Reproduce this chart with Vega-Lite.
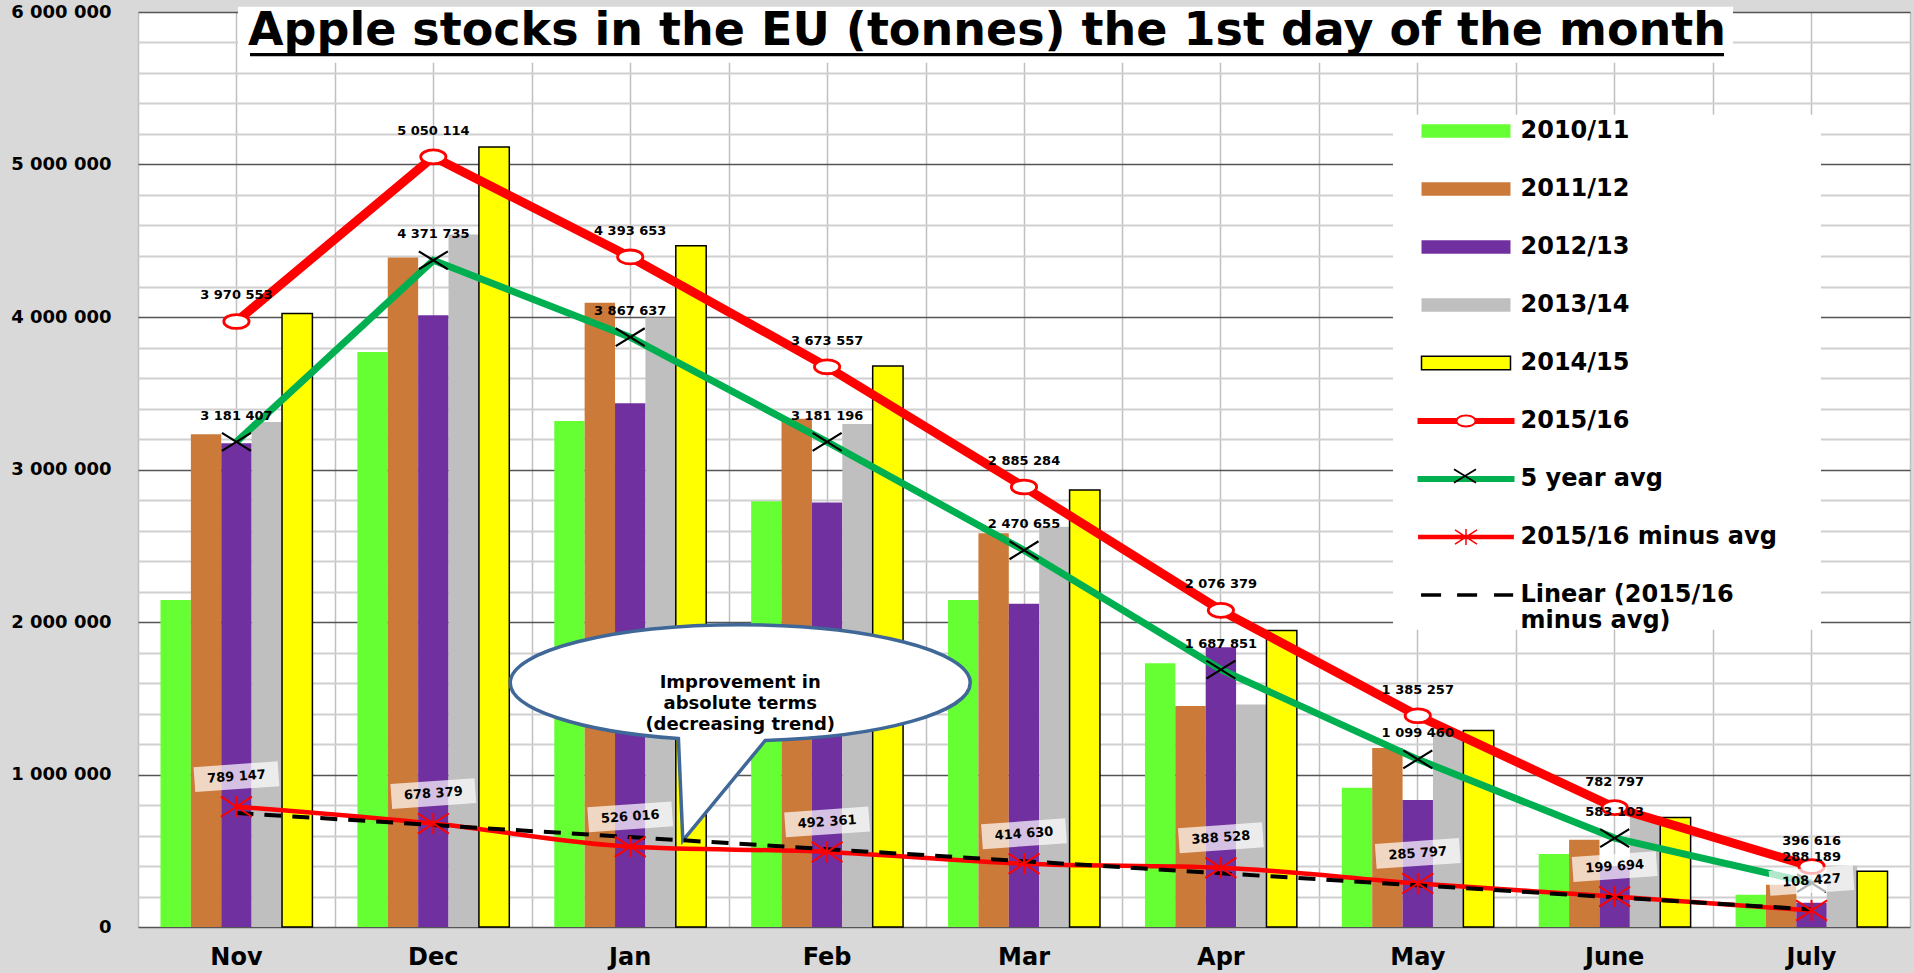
{
  "$schema": "https://vega.github.io/schema/vega-lite/v6.json",
  "width": 1772,
  "height": 915,
  "autosize": {"type": "none"},
  "padding": {"left": 138, "top": 12, "right": 4, "bottom": 46},
  "background": "#d9d9d9",
  "config": {
    "view": {"fill": "white", "stroke": null},
    "font": "DejaVu Sans",
    "locale": {"number": {"decimal": ".", "thousands": " ", "grouping": [3], "currency": ["", ""]}}
  },
  "title": {
    "text": "Apple stocks in the EU (tonnes) the 1st day of the month",
    "orient": "top", "anchor": "middle", "frame": "group",
    "offset": -48, "dx": -37, "dy": 40,
    "font": "DejaVu Sans", "fontSize": 46, "fontWeight": "bold", "color": "black", "baseline": "alphabetic"
  },
  "datasets": {
    "stocks": [
      {"month": "Nov", "series": "2010/11", "value": 2145000},
      {"month": "Nov", "series": "2011/12", "value": 3231000},
      {"month": "Nov", "series": "2012/13", "value": 3172000},
      {"month": "Nov", "series": "2013/14", "value": 3311000},
      {"month": "Nov", "series": "2014/15", "value": 4023000},
      {"month": "Nov", "series": "2015/16", "value": 3970553},
      {"month": "Nov", "series": "5 year avg", "value": 3181407},
      {"month": "Nov", "series": "2015/16 minus avg", "value": 789147},
      {"month": "Nov", "series": "Linear (2015/16 minus avg)", "value": 747656},
      {"month": "Dec", "series": "2010/11", "value": 3770000},
      {"month": "Dec", "series": "2011/12", "value": 4390000},
      {"month": "Dec", "series": "2012/13", "value": 4012000},
      {"month": "Dec", "series": "2013/14", "value": 4541000},
      {"month": "Dec", "series": "2014/15", "value": 5115000},
      {"month": "Dec", "series": "2015/16", "value": 5050114},
      {"month": "Dec", "series": "5 year avg", "value": 4371735},
      {"month": "Dec", "series": "2015/16 minus avg", "value": 678379},
      {"month": "Dec", "series": "Linear (2015/16 minus avg)", "value": 668603},
      {"month": "Jan", "series": "2010/11", "value": 3318000},
      {"month": "Jan", "series": "2011/12", "value": 4093000},
      {"month": "Jan", "series": "2012/13", "value": 3434000},
      {"month": "Jan", "series": "2013/14", "value": 3997000},
      {"month": "Jan", "series": "2014/15", "value": 4467000},
      {"month": "Jan", "series": "2015/16", "value": 4393653},
      {"month": "Jan", "series": "5 year avg", "value": 3867637},
      {"month": "Jan", "series": "2015/16 minus avg", "value": 526016},
      {"month": "Jan", "series": "Linear (2015/16 minus avg)", "value": 589549},
      {"month": "Feb", "series": "2010/11", "value": 2792000},
      {"month": "Feb", "series": "2011/12", "value": 3333000},
      {"month": "Feb", "series": "2012/13", "value": 2783000},
      {"month": "Feb", "series": "2013/14", "value": 3298000},
      {"month": "Feb", "series": "2014/15", "value": 3678000},
      {"month": "Feb", "series": "2015/16", "value": 3673557},
      {"month": "Feb", "series": "5 year avg", "value": 3181196},
      {"month": "Feb", "series": "2015/16 minus avg", "value": 492361},
      {"month": "Feb", "series": "Linear (2015/16 minus avg)", "value": 510496},
      {"month": "Mar", "series": "2010/11", "value": 2145000},
      {"month": "Mar", "series": "2011/12", "value": 2582000},
      {"month": "Mar", "series": "2012/13", "value": 2119000},
      {"month": "Mar", "series": "2013/14", "value": 2625000},
      {"month": "Mar", "series": "2014/15", "value": 2866000},
      {"month": "Mar", "series": "2015/16", "value": 2885284},
      {"month": "Mar", "series": "5 year avg", "value": 2470655},
      {"month": "Mar", "series": "2015/16 minus avg", "value": 414630},
      {"month": "Mar", "series": "Linear (2015/16 minus avg)", "value": 431442},
      {"month": "Apr", "series": "2010/11", "value": 1730000},
      {"month": "Apr", "series": "2011/12", "value": 1450000},
      {"month": "Apr", "series": "2012/13", "value": 1835000},
      {"month": "Apr", "series": "2013/14", "value": 1459000},
      {"month": "Apr", "series": "2014/15", "value": 1944000},
      {"month": "Apr", "series": "2015/16", "value": 2076379},
      {"month": "Apr", "series": "5 year avg", "value": 1687851},
      {"month": "Apr", "series": "2015/16 minus avg", "value": 388528},
      {"month": "Apr", "series": "Linear (2015/16 minus avg)", "value": 352389},
      {"month": "May", "series": "2010/11", "value": 913000},
      {"month": "May", "series": "2011/12", "value": 1173000},
      {"month": "May", "series": "2012/13", "value": 832000},
      {"month": "May", "series": "2013/14", "value": 1275000},
      {"month": "May", "series": "2014/15", "value": 1288000},
      {"month": "May", "series": "2015/16", "value": 1385257},
      {"month": "May", "series": "5 year avg", "value": 1099460},
      {"month": "May", "series": "2015/16 minus avg", "value": 285797},
      {"month": "May", "series": "Linear (2015/16 minus avg)", "value": 273336},
      {"month": "June", "series": "2010/11", "value": 478000},
      {"month": "June", "series": "2011/12", "value": 572000},
      {"month": "June", "series": "2012/13", "value": 400000},
      {"month": "June", "series": "2013/14", "value": 728000},
      {"month": "June", "series": "2014/15", "value": 718000},
      {"month": "June", "series": "2015/16", "value": 782797},
      {"month": "June", "series": "5 year avg", "value": 583103},
      {"month": "June", "series": "2015/16 minus avg", "value": 199694},
      {"month": "June", "series": "Linear (2015/16 minus avg)", "value": 194282},
      {"month": "July", "series": "2010/11", "value": 212000},
      {"month": "July", "series": "2011/12", "value": 277000},
      {"month": "July", "series": "2012/13", "value": 159000},
      {"month": "July", "series": "2013/14", "value": 402000},
      {"month": "July", "series": "2014/15", "value": 365000},
      {"month": "July", "series": "2015/16", "value": 396616},
      {"month": "July", "series": "5 year avg", "value": 288189},
      {"month": "July", "series": "2015/16 minus avg", "value": 108427},
      {"month": "July", "series": "Linear (2015/16 minus avg)", "value": 115229}
    ],
    "notes": [
      {"kind": "title box", "month": "Mar", "value": 5851000},
      {"kind": "legend box", "month": "June", "value": 3638000},
      {"kind": "callout", "month": "Jan", "value": 1602000, "note": "Improvement in\nabsolute terms\n(decreasing trend)"}
    ]
  },
  "resolve": {"axis": {"x": "independent", "y": "independent"}},
  "layer": [
    {
      "data": {"name": "stocks"},
      "transform": [{"filter": {"field": "series", "oneOf": ["2010/11", "2011/12", "2012/13", "2013/14", "2014/15"]}}],
      "mark": {"type": "bar", "stroke": "black"},
      "encoding": {
        "x": {
          "field": "month", "type": "nominal", "sort": null,
          "scale": {"domain": ["Nov", "Dec", "Jan", "Feb", "Mar", "Apr", "May", "June", "July"], "paddingInner": 0, "paddingOuter": 0},
          "axis": {"orient": "bottom", "title": null, "labelAngle": 0, "labelFont": "DejaVu Sans", "labelFontSize": 24, "labelFontWeight": "bold", "labelColor": "black", "labelPadding": 18, "ticks": false, "tickSize": 0, "domain": false, "grid": true, "gridColor": "#c0c0c0", "gridWidth": 1.5, "tickBand": "center"}
        },
        "xOffset": {"field": "series", "type": "nominal", "sort": null, "scale": {"domain": ["2010/11", "2011/12", "2012/13", "2013/14", "2014/15"], "paddingInner": 0, "paddingOuter": 0.74}},
        "y": {
          "field": "value", "type": "quantitative",
          "scale": {"domain": [0, 6000000], "nice": false},
          "axis": {
            "orient": "left", "title": null,
            "values": [0, 1000000, 2000000, 3000000, 4000000, 5000000, 6000000],
            "format": ",d",
            "labelFont": "DejaVu Sans", "labelFontSize": 18, "labelFontWeight": "bold", "labelColor": "black", "labelPadding": 27,
            "ticks": false, "tickSize": 0, "domain": false, "grid": true, "gridColor": "#555555", "gridWidth": 1.5
          }
        },
        "color": {
          "field": "series", "type": "nominal",
          "scale": {
            "domain": ["2010/11", "2011/12", "2012/13", "2013/14", "2014/15", "2015/16", "5 year avg", "2015/16 minus avg", "Linear (2015/16 minus avg)"],
            "range": ["#66ff33", "#cc7a3a", "#7030a0", "#bfbfbf", "#ffff00", "#ff0000", "#00b050", "#ff0000", "#000000"]
          },
          "legend": {
            "orient": "none", "legendX": 1282.5, "legendY": 73.5, "title": null,
            "padding": 0, "symbolSize": 7921, "symbolOffset": 0, "symbolStrokeWidth": 1.5,
            "symbolType": {"expr": "datum.value === '2015/16' ? 'M -1.09 -0.07 L -0.21 -0.07 L -0.21 0.07 L -1.09 0.07 Z M 0.21 -0.07 L 1.09 -0.07 L 1.09 0.07 L 0.21 0.07 Z M -0.236 0 C -0.236 -0.08 -0.13 -0.145 0 -0.145 C 0.13 -0.145 0.236 -0.08 0.236 0 C 0.236 0.08 0.13 0.145 0 0.145 C -0.13 0.145 -0.236 0.08 -0.236 0 Z M -0.19 0 C -0.19 0.055 -0.105 0.1 0 0.1 C 0.105 0.1 0.19 0.055 0.19 0 C 0.19 -0.055 0.105 -0.1 0 -0.1 C -0.105 -0.1 -0.19 -0.055 -0.19 0 Z' : datum.value === '5 year avg' ? 'M -1.09 -0.07 L 1.09 -0.07 L 1.09 0.07 L -1.09 0.07 Z' : datum.value === '2015/16 minus avg' ? 'M -1.06 -0.035 L 1.06 -0.035 L 1.06 0.035 L -1.06 0.035 Z M -0.247 -0.16 L 0.247 0.16 M -0.247 0.16 L 0.247 -0.16 M 0 -0.18 L 0 0.18' : datum.value === 'Linear (2015/16 minus avg)' ? 'M -1.01 -0.038 L -0.56 -0.038 L -0.56 0.038 L -1.01 0.038 Z M -0.2 -0.038 L 0.25 -0.038 L 0.25 0.038 L -0.2 0.038 Z M 0.63 -0.038 L 1.06 -0.038 L 1.06 0.038 L 0.63 0.038 Z' : 'M -1 -0.15 L 1 -0.15 L 1 0.15 L -1 0.15 Z'"},
            "symbolStrokeColor": {"expr": "datum.value === '2014/15' ? 'black' : datum.value === '2015/16 minus avg' ? '#ff0000' : 'transparent'"},
            "symbolOpacity": 1,
            "labelOffset": 9, "labelFont": "DejaVu Sans", "labelFontSize": 24, "labelFontWeight": "bold", "labelColor": "black", "labelLimit": 500,
            "rowPadding": -1.6,
            "labelExpr": "datum.label === 'Linear (2015/16 minus avg)' ? ['Linear (2015/16', 'minus avg)'] : datum.label === '5 year avg' ? '\u00a05 year avg' : datum.label"
          }
        },
        "strokeWidth": {"condition": {"test": "datum.series === '2014/15'", "value": 1.5}, "value": 0}
      }
    },
    {
      "data": {"name": "notes"},
      "transform": [{"filter": "datum.kind === 'legend box'"}],
      "mark": {"type": "point", "shape": "M -1 -1.203 L 1 -1.203 L 1 1.203 L -1 1.203 Z", "size": 183184, "filled": true, "fill": "white", "strokeWidth": 0, "opacity": 1, "xOffset": -7.7},
      "encoding": {
        "x": {"field": "month", "type": "nominal", "sort": null, "axis": null},
        "y": {"field": "value", "type": "quantitative", "axis": null}
      }
    },
    {
      "data": {"name": "notes"},
      "transform": [{"filter": "datum.kind === 'title box'"}],
      "mark": {"type": "point", "shape": "M -1 -0.0375 L 1 -0.0375 L 1 0.0375 L -1 0.0375 Z", "size": 2235025, "filled": true, "fill": "white", "strokeWidth": 0, "opacity": 1, "xOffset": -38.5},
      "encoding": {
        "x": {"field": "month", "type": "nominal", "sort": null, "axis": null},
        "y": {"field": "value", "type": "quantitative", "axis": null}
      }
    },
    {
      "data": {"name": "notes"},
      "transform": [{"filter": "datum.kind === 'title box'"}],
      "mark": {"type": "point", "shape": "M -1 -0.00224 L 1 -0.00224 L 1 0.00224 L -1 0.00224 Z", "size": 2172676, "filled": true, "fill": "black", "strokeWidth": 0, "opacity": 1, "xOffset": -37, "yOffset": 20},
      "encoding": {
        "x": {"field": "month", "type": "nominal", "sort": null, "axis": null},
        "y": {"field": "value", "type": "quantitative", "axis": null}
      }
    },
    {
      "data": {"name": "notes"},
      "transform": [{"filter": "datum.kind === 'callout'"}],
      "mark": {"type": "point", "shape": "M 0.25 0.577 C 1.417 0.544 2.3 0.296 2.3 0 C 2.3 -0.32 1.27 -0.58 0 -0.58 C -1.27 -0.58 -2.3 -0.32 -2.3 0 C -2.3 0.26 -1.613 0.489 -0.618 0.559 L -0.574 1.58 Z", "size": 40000, "filled": true, "fill": "white", "stroke": "#3f6797", "strokeWidth": 3.5, "opacity": 1, "xOffset": 110},
      "encoding": {
        "x": {"field": "month", "type": "nominal", "sort": null, "axis": null},
        "y": {"field": "value", "type": "quantitative", "axis": null}
      }
    },
    {
      "data": {"name": "notes"},
      "transform": [{"filter": "datum.kind === 'callout'"}],
      "mark": {"type": "text", "lineBreak": "\n", "font": "DejaVu Sans", "fontSize": 18, "fontWeight": "bold", "color": "black", "align": "center", "baseline": "middle", "lineHeight": 21, "xOffset": 110},
      "encoding": {
        "x": {"field": "month", "type": "nominal", "sort": null, "axis": null},
        "y": {"field": "value", "type": "quantitative", "axis": null},
        "text": {"field": "note"}
      }
    },
    {
      "data": {"name": "stocks"},
      "transform": [{"filter": "datum.series === '2015/16 minus avg'"}],
      "mark": {"type": "line", "color": "#ff0000", "strokeWidth": 4.5, "interpolate": "monotone"},
      "encoding": {
        "x": {"field": "month", "type": "nominal", "sort": null, "axis": null},
        "y": {"field": "value", "type": "quantitative", "axis": null},
        "order": {"value": null}
      }
    },
    {
      "data": {"name": "stocks"},
      "transform": [{"filter": "datum.series === 'Linear (2015/16 minus avg)'"}],
      "mark": {"type": "line", "color": "black", "strokeWidth": 4, "strokeDash": [17, 11]},
      "encoding": {
        "x": {"field": "month", "type": "nominal", "sort": null, "axis": null},
        "y": {"field": "value", "type": "quantitative", "axis": null},
        "order": {"value": null}
      }
    },
    {
      "data": {"name": "stocks"},
      "transform": [{"filter": "datum.series === '5 year avg'"}],
      "mark": {"type": "line", "color": "#00b050", "strokeWidth": 7},
      "encoding": {
        "x": {"field": "month", "type": "nominal", "sort": null, "axis": null},
        "y": {"field": "value", "type": "quantitative", "axis": null},
        "order": {"value": null}
      }
    },
    {
      "data": {"name": "stocks"},
      "transform": [{"filter": "datum.series === '2015/16'"}],
      "mark": {"type": "line", "color": "#ff0000", "strokeWidth": 9},
      "encoding": {
        "x": {
          "field": "month", "type": "nominal", "sort": null,
          "axis": {"orient": "top", "title": null, "labels": false, "ticks": false, "domain": false, "grid": true, "tickBand": "extent", "gridColor": "#c0c0c0", "gridWidth": 1.5}
        },
        "y": {
          "field": "value", "type": "quantitative",
          "axis": {
            "orient": "right", "title": null, "labels": false, "ticks": false, "domain": false, "grid": true, "gridColor": "#d0d0d0", "gridWidth": 2,
            "values": [200000, 400000, 600000, 800000, 1200000, 1400000, 1600000, 1800000, 2200000, 2400000, 2600000, 2800000, 3200000, 3400000, 3600000, 3800000, 4200000, 4400000, 4600000, 4800000, 5200000, 5400000, 5600000, 5800000]
          }
        },
        "order": {"value": null}
      }
    },
    {
      "data": {"name": "stocks"},
      "transform": [{"filter": "datum.series === '5 year avg'"}],
      "mark": {"type": "point", "filled": false, "stroke": "black", "strokeWidth": 2.2, "size": 841, "opacity": 1},
      "encoding": {
        "x": {"field": "month", "type": "nominal", "sort": null, "axis": null},
        "y": {"field": "value", "type": "quantitative", "axis": null},
        "shape": {
          "field": "series", "type": "nominal",
          "scale": {"domain": ["5 year avg"], "range": ["M -1 -0.62 L 1 0.62 M -1 0.62 L 1 -0.62"]},
          "legend": {"orient": "none", "legendX": 1315, "legendY": 452, "title": null, "padding": 0, "symbolSize": 484, "symbolStrokeWidth": 1.8, "symbolStrokeColor": "black", "symbolFillColor": "transparent", "symbolOffset": 0, "labelOpacity": 0, "labelFontSize": 1}
        }
      }
    },
    {
      "data": {"name": "stocks"},
      "transform": [{"filter": "datum.series === '2015/16'"}],
      "mark": {"type": "point", "shape": "M -1 0 C -1 -0.304 -0.552 -0.55 0 -0.55 C 0.552 -0.55 1 -0.304 1 0 C 1 0.304 0.552 0.55 0 0.55 C -0.552 0.55 -1 0.304 -1 0 Z", "filled": true, "fill": "white", "stroke": "#ff0000", "strokeWidth": 2.8, "size": 640, "opacity": 1},
      "encoding": {
        "x": {"field": "month", "type": "nominal", "sort": null, "axis": null},
        "y": {"field": "value", "type": "quantitative", "axis": null}
      }
    },
    {
      "data": {"name": "stocks"},
      "transform": [{"filter": "datum.series === '2015/16 minus avg'"}],
      "mark": {"type": "point", "shape": "M -1 -0.65 L 1 0.65 M -1 0.65 L 1 -0.65 M 0 -0.68 L 0 0.68", "filled": false, "stroke": "#ff0000", "strokeWidth": 2, "size": 961, "opacity": 1},
      "encoding": {
        "x": {"field": "month", "type": "nominal", "sort": null, "axis": null},
        "y": {"field": "value", "type": "quantitative", "axis": null}
      }
    },
    {
      "data": {"name": "stocks"},
      "transform": [{"filter": "datum.series === '2015/16' || datum.series === '5 year avg'"}],
      "mark": {"type": "text", "font": "DejaVu Sans", "fontSize": 13, "fontWeight": "bold", "color": "black", "align": "center", "baseline": "middle", "yOffset": -26},
      "encoding": {
        "x": {"field": "month", "type": "nominal", "sort": null, "axis": null},
        "y": {"field": "value", "type": "quantitative", "axis": null},
        "text": {"field": "value", "type": "quantitative", "format": ",d"}
      }
    },
    {
      "data": {"name": "stocks"},
      "transform": [{"filter": "datum.series === '2015/16 minus avg'"}],
      "mark": {"type": "point", "shape": "M -0.998 -0.221 L 0.957 -0.358 L 0.998 0.221 L -0.957 0.358 Z", "filled": true, "fill": "white", "fillOpacity": 0.7, "strokeWidth": 0, "size": 7396, "opacity": 1, "yOffset": -30},
      "encoding": {
        "x": {"field": "month", "type": "nominal", "sort": null, "axis": null},
        "y": {"field": "value", "type": "quantitative", "axis": null}
      }
    },
    {
      "data": {"name": "stocks"},
      "transform": [{"filter": "datum.series === '2015/16 minus avg'"}],
      "mark": {"type": "text", "font": "DejaVu Sans", "fontSize": 13, "fontWeight": "bold", "color": "black", "align": "center", "baseline": "middle", "angle": -4, "yOffset": -30},
      "encoding": {
        "x": {"field": "month", "type": "nominal", "sort": null, "axis": null},
        "y": {"field": "value", "type": "quantitative", "axis": null},
        "text": {"field": "value", "type": "quantitative", "format": ",d"}
      }
    }
  ]
}
